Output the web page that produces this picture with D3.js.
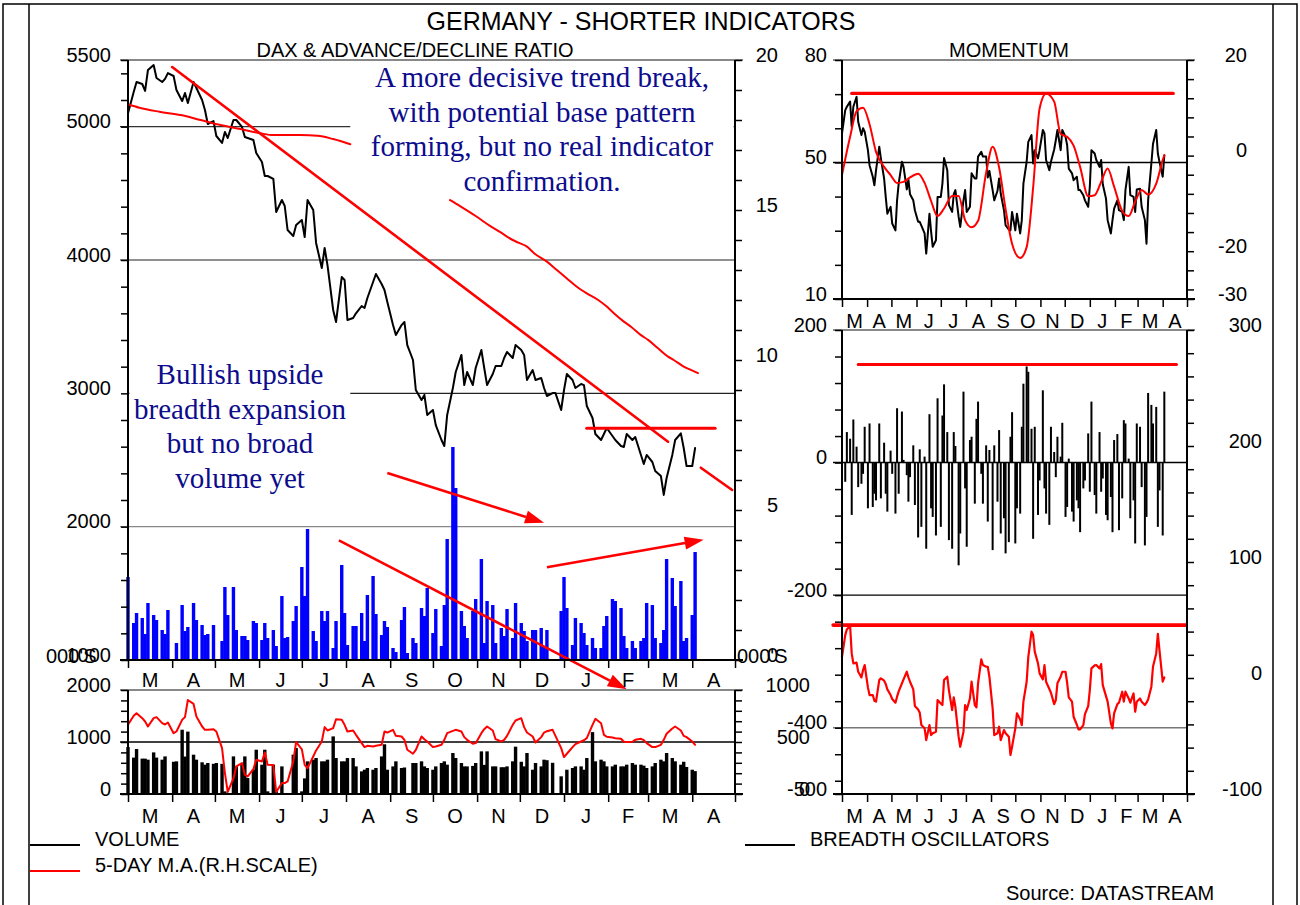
<!DOCTYPE html>
<html>
<head>
<meta charset="utf-8">
<script src="https://cdn.jsdelivr.net/npm/d3@7"></script>
<style>
  html, body { margin: 0; padding: 0; background: #fff; }
  svg { display: block; }
</style>
</head>
<body>
<svg id="chart" width="1300" height="905"></svg>
<script>
// germany - shorter indicators: dax, volume, momentum e breadth
const SANS = "'Liberation Sans', Arial, Helvetica, sans-serif";
const SERIF = "'Liberation Serif', 'Times New Roman', Times, serif";
const NAVY = "#0c0c8c";
const RED = "#ff0000";
const BLUE = "#0000ff";

const parse = d3.timeParse("%Y-%m-%d");
const START = parse("2002-03-01");
const END = parse("2003-05-01");
const LAST = parse("2003-04-03");

const MONTH_LABELS = ["M", "A", "M", "J", "J", "A", "S", "O", "N", "D", "J", "F", "M", "A"];

// one value every second trading day
const DAX = [
  5100, 5260, 5335, 5320, 5268, 5425, 5462, 5365, 5335, 5358,
  5402, 5380, 5275, 5192, 5252, 5178, 5335, 5290, 5200, 5125,
  5020, 5042, 4930, 4878, 4960, 4915, 5050, 5050, 4998, 4922,
  4915, 4900, 4802, 4735, 4630, 4630, 4608, 4360, 4450, 4405,
  4225, 4180, 4262, 4300, 4172, 4450, 4375, 4128, 3940, 4090,
  3962, 3625, 3535, 3872, 3850, 3550, 3565, 3600, 3655, 3640,
  3715, 3835, 3895, 3820, 3775, 3685, 3512, 3438, 3512, 3535,
  3362, 3250, 3025, 2950, 2988, 2838, 2875, 2762, 2650, 2605,
  2838, 3040, 3160, 3288, 3062, 3160, 3062, 3190, 3325, 3190,
  3062, 3145, 3205, 3205, 3265, 3310, 3265, 3362, 3325, 3288,
  3100, 3175, 3100, 3115, 3040, 2980, 3002, 3002, 2875, 3025,
  3145, 3100, 3040, 3070, 3062, 2905, 2815, 2695, 2650, 2695,
  2740, 2680, 2650, 2605, 2598, 2695, 2650, 2672, 2538, 2470,
  2538, 2485, 2418, 2380, 2238, 2365, 2538, 2650, 2700, 2590,
  2455, 2455, 2590
];

const ADV_VOLUME = [
  830, 370, 470, 420, 260, 570, 450, 400, 300, 260,
  500, 0, 170, 550, 290, 330, 570, 400, 350, 250,
  260, 350, 0, 190, 730, 450, 730, 300, 240, 240,
  200, 390, 370, 200, 370, 220, 300, 140, 640, 220,
  230, 390, 540, 930, 640, 1310, 290, 190, 490, 390,
  490, 120, 390, 950, 470, 150, 340, 340, 470, 190,
  650, 840, 460, 250, 390, 330, 120, 80, 400, 530,
  70, 220, 170, 520, 440, 720, 270, 510, 140, 550,
  1210, 2130, 1720, 490, 340, 220, 490, 610, 1010, 170,
  590, 550, 170, 320, 240, 510, 220, 570, 370, 290,
  190, 300, 300, 320, 140, 300, 0, 0, 490, 830,
  520, 150, 420, 370, 270, 150, 220, 120, 120, 340,
  440, 610, 590, 520, 240, 120, 190, 120, 190, 220,
  570, 550, 220, 170, 300, 1010, 820, 540, 790, 190,
  220, 450, 1080
];

const VOLUME = [
  904, 700, 865, 680, 680, 660, 800, 700, 660, 723,
  0, 620, 628, 1236, 720, 1200, 756, 660, 610, 564,
  596, 580, 596, 580, 51, 0, 723, 530, 596, 723,
  307, 467, 852, 564, 852, 51, 564, 51, 531, 0,
  0, 756, 884, 51, 300, 628, 660, 692, 628, 628,
  660, 1108, 692, 628, 628, 692, 692, 531, 435, 467,
  500, 467, 500, 723, 956, 467, 531, 628, 500, 510,
  0, 596, 596, 628, 531, 500, 467, 531, 596, 628,
  564, 788, 692, 596, 531, 531, 540, 596, 820, 560,
  820, 531, 531, 515, 515, 531, 628, 910, 620, 531,
  788, 467, 596, 531, 660, 650, 600, 0, 340, 0,
  467, 500, 531, 531, 467, 692, 1190, 628, 660, 628,
  531, 531, 564, 531, 531, 564, 596, 564, 564, 545,
  500, 531, 596, 660, 628, 788, 692, 628, 564, 620,
  520, 467, 440
];

const VOLUME_MA = [
  665, 752, 777, 729, 697, 649, 729, 739, 681, 668,
  687, 585, 601, 713, 739, 904, 866, 745, 649, 617,
  617, 623, 601, 441, 201, 20, 150, 265, 297, 185,
  169, 239, 329, 313, 399, 281, 278, 20, 105, 105,
  121, 313, 500, 430, 281, 249, 361, 419, 505, 643,
  611, 633, 719, 713, 665, 601, 611, 569, 489, 451,
  463, 457, 463, 473, 601, 591, 617, 559, 553, 521,
  425, 387, 425, 553, 527, 505, 451, 457, 473, 521,
  585, 607, 617, 601, 547, 521, 483, 489, 585, 623,
  649, 611, 527, 505, 521, 559, 665, 707, 729, 643,
  591, 553, 495, 547, 591, 604, 617, 559, 441, 355,
  387, 451, 480, 505, 517, 537, 665, 723, 681, 569,
  550, 543, 537, 531, 502, 499, 502, 521, 531, 517,
  489, 451, 451, 473, 521, 579, 630, 649, 611, 559,
  547, 505, 473
];

const MOMENTUM = [
  58.5, 65.3, 66.3, 67.8, 60.4, 66.3, 69.2, 61.9, 58.0, 60.0,
  59.0, 53.6, 49.2, 45.8, 43.3, 47.7, 54.6, 51.2, 45.3, 39.9,
  35.0, 37.0, 32.1, 30.1, 38.9, 43.8, 50.2, 48.7, 42.1, 45.0,
  40.7, 38.9, 36.0, 32.6, 32.6, 31.5, 29.2, 23.3, 35.0, 29.8,
  25.3, 27.2, 39.9, 39.9, 43.8, 51.3, 47.7, 37.5, 35.5, 40.7,
  41.9, 34.1, 31.1, 38.9, 41.9, 35.5, 37.0, 46.8, 45.3, 45.3,
  51.7, 53.1, 51.7, 51.7, 45.6, 47.5, 41.9, 38.9, 41.7, 45.3,
  40.9, 36.0, 31.6, 30.3, 30.1, 35.5, 30.1, 35.0, 29.2, 33.1,
  43.8, 50.2, 56.0, 58.0, 49.7, 53.6, 51.2, 53.6, 59.5, 58.5,
  50.7, 47.7, 50.2, 53.8, 56.5, 59.5, 53.6, 59.5, 57.5, 55.1,
  48.2, 46.8, 44.8, 45.8, 41.9, 41.9, 40.4, 38.9, 37.0, 42.9,
  53.6, 52.6, 50.7, 48.7, 50.7, 43.6, 39.4, 33.1, 29.2, 33.1,
  36.5, 38.9, 36.0, 35.5, 33.1, 41.9, 48.7, 40.4, 39.9, 35.5,
  42.1, 42.3, 37.0, 33.1, 26.2, 38.9, 49.7, 55.4, 59.5, 52.6,
  50.2, 45.8, 52.1
];

// one value every sixth trading day
const MOMENTUM_MA = [
  46.3, 57.5, 65.0, 66.0, 61.2, 53.1, 48.7, 46.3, 44.0, 44.3,
  45.6, 46.7, 44.0, 38.7, 34.3, 36.5, 40.2, 40.2, 33.1, 31.0,
  32.9, 47.0, 54.6, 48.5, 36.3, 26.2, 22.0, 25.2, 42.6, 65.8,
  70.2, 67.8, 58.3, 57.5, 54.9, 48.7, 40.1, 40.4, 44.3, 48.2,
  42.9, 35.8, 34.3, 38.5, 41.9, 40.6, 43.8, 50.7, 52.1
];

const BREADTH = [
  99, -29, 46, 36, -79, 65, 24, -37, -32, -17,
  54, -69, 59, -67, -47, -57, 59, -54, 30, -47,
  -74, 18, -17, -77, 82, -47, 77, 4, -19, -59,
  -22, 26, -64, -113, 20, -97, 9, -130, 73, -69,
  -82, -110, 97, -97, 71, 118, 46, -117, -130, 46,
  25, -155, -107, 107, -39, -127, 34, 39, -62, 66,
  92, -17, -62, 26, -89, 19, -132, 26, -59, 49,
  -107, -84, -137, -120, 39, 76, -122, -69, -77, 54,
  119, 145, 137, 51, -115, 54, -79, -27, 109, -39,
  -77, -94, 54, 16, -22, 39, 9, 60, -82, -67,
  6, -74, -89, -57, -69, -105, -39, -27, 44, -44,
  92, -49, -77, 46, -44, -24, -79, -87, -52, -105,
  34, 43, -102, -54, 64, 59, 6, -84, -57, -122,
  59, 54, -37, -125, -82, 105, 87, 59, 84, -97,
  -42, -110, 107
];

const BREADTH_MA = [
  18.3, 37.0, 41.9, 45.0, 21.2, 12.6, 13.2, 5.4, 0.5, 6.9,
  11.2, -8.1, -14.7, -14.7, -19.6, -20.4, -1.8, -0.3, -2.3, -5.2,
  -9.8, -14.7, -18.1, -21.3, -16.1, -11.5, -4.6, -1.2, 5.4, 0.5,
  -3.2, -9.8, -24.2, -27.1, -29.9, -40.6, -43.4, -53.5, -40.6, -49.2,
  -47.7, -46.3, -19.0, -21.9, -23.3, -1.8, 1.1, -10.4, -27.6, -16.7,
  -24.8, -50.6, -59.3, -46.3, -23.3, -27.6, -17.6, -3.2, -23.3, -25.3,
  -4.6, 16.1, 11.2, 9.7, 9.7, 1.1, -26.2, -49.2, -47.7, -42.0,
  -53.5, -44.9, -47.7, -50.6, -66.4, -59.3, -43.4, -30.5, -35.7, -40.6,
  -20.4, -3.2, 17.8, 40.0, 37.0, 22.7, 12.6, 4.0, -1.2, 11.2,
  -3.2, -9.5, -12.7, -22.5, -19.0, -4.6, 1.1, 5.4, 5.4, -4.1,
  -16.7, -20.4, -33.4, -40.3, -44.3, -44.3, -40.6, -31.1, -24.2, -10.4,
  8.3, 10.9, 11.2, 8.3, 12.0, -6.1, -15.6, -20.4, -39.1, -43.4,
  -30.5, -22.5, -21.3, -11.8, -20.4, -11.8, -17.6, -21.3, -13.3, -29.1,
  -20.4, -17.6, -20.4, -23.3, -21.3, -18.5, -7.5, 9.7, 21.2, 38.0,
  24.1, -3.2, 0.5
];

// smooth lines read at their own dates
const DAX_MA = [
  ["2002-03-01", 5168], ["2002-03-09", 5142], ["2002-03-23", 5112], ["2002-04-07", 5087],
  ["2002-04-21", 5050], ["2002-05-05", 5012], ["2002-05-19", 4982], ["2002-06-02", 4950],
  ["2002-06-11", 4937], ["2002-06-30", 4937], ["2002-07-12", 4932], ["2002-07-23", 4907],
  ["2002-08-04", 4868]
];

const AD_RATIO = [
  ["2002-10-13", 15.33], ["2002-10-20", 15.13], ["2002-10-31", 14.8], ["2002-11-10", 14.47],
  ["2002-11-17", 14.27], ["2002-11-26", 14.0], ["2002-11-30", 13.91], ["2002-12-06", 13.78],
  ["2002-12-11", 13.56], ["2002-12-20", 13.28], ["2002-12-27", 13.0], ["2003-01-03", 12.72],
  ["2003-01-10", 12.44], ["2003-01-17", 12.22], ["2003-01-25", 12.0], ["2003-01-31", 11.78],
  ["2003-02-05", 11.56], ["2003-02-12", 11.28], ["2003-02-17", 11.11], ["2003-02-24", 10.83],
  ["2003-03-01", 10.67], ["2003-03-08", 10.39], ["2003-03-15", 10.11], ["2003-03-19", 10.0],
  ["2003-03-26", 9.78], ["2003-03-31", 9.67], ["2003-04-05", 9.56]
];

// annotations drawn by hand on the original
const TREND_SEGMENTS = [
  [["2002-04-01", 5447], ["2003-03-15", 2637]],
  [["2003-04-07", 2442], ["2003-04-29", 2275]]
];
const DAX_LEVEL = [["2003-01-17", 2738], ["2003-04-17", 2738]];
const ARROWS = [
  [["2002-08-30", 2402], ["2002-12-18", 2030]],
  [["2002-12-20", 1695], ["2003-04-09", 1902]],
  [["2002-07-27", 1897], ["2003-02-14", 780]]
];
const MOMENTUM_LEVEL = [["2002-03-13", 70.2], ["2003-04-14", 70.2]];
const BREADTH_LEVEL = [["2002-03-21", 148], ["2003-04-18", 148]];
const BREADTH_MA_LEVEL = [["2002-02-18", 45.6], ["2003-04-30", 45.6]];

const NOTE_BOXES = [
  { from: "2002-08-04", to: "2003-04-30", top: 5500, bottom: 4450 },
  { from: "2002-03-02", to: "2002-08-04", top: 3290, bottom: 2200 }
];
const NOTE_TOP = ["A more decisive trend break,", "with potential base pattern", "forming, but no real indicator", "confirmation."];
const NOTE_LEFT = ["Bullish upside", "breadth expansion", "but no broad", "volume yet"];

const tradingDays = d3.timeDay.range(START, d3.timeDay.offset(LAST, 1)).filter((d) => d.getDay() % 6 !== 0);
const sampleDates = tradingDays.filter((_d, i) => i % 2 === 0);
const months = d3.timeMonth.range(START, d3.timeDay.offset(END, 1));

function series(values, step = 1) {
  return values.map((v, k) => ({ date: sampleDates[Math.min(k * step, sampleDates.length - 1)], v }));
}
function pairs(list) {
  return list.map(([d, v]) => ({ date: parse(d), v }));
}

const xL = d3.scaleTime().domain([START, END]).range([128, 735]);
const xR = d3.scaleTime().domain([START, END]).range([842, 1187]);
const yDax = d3.scaleLinear().domain([1000, 5500]).range([660, 60]);
const yRatio = d3.scaleLinear().domain([0, 20]).range([660, 60]);
const yAdv = d3.scaleLinear().domain([0, 6000]).range([660, 60]);
const yVol = d3.scaleLinear().domain([0, 2000]).range([794, 690]);
const yVolMa = d3.scaleLinear().domain([0, 1000]).range([794, 690]);
const yMom = d3.scaleLinear().domain([10, 80]).range([299, 60]);
const yMomR = d3.scaleLinear().domain([-30, 20]).range([299, 60]);
const yBr = d3.scaleLinear().domain([-500, 200]).range([794, 330]);
const yBrR = d3.scaleLinear().domain([-100, 300]).range([794, 330]);

const svg = d3.select("#chart");
svg.append("rect").attr("width", 1300).attr("height", 905).attr("fill", "#fff");

// moldura externa
svg.append("rect").attr("x", 3).attr("y", 4).attr("width", 1294).attr("height", 920)
  .attr("fill", "none").attr("stroke", "#000").attr("stroke-width", 1.5);
[29, 1273].forEach((x) => {
  svg.append("line").attr("x1", x).attr("x2", x).attr("y1", 4).attr("y2", 905)
    .attr("stroke", "#000").attr("stroke-width", 1.5);
});

function hline(x1, x2, y, color, w) {
  svg.append("line").attr("x1", x1).attr("x2", x2).attr("y1", y).attr("y2", y)
    .attr("stroke", color).attr("stroke-width", w);
}
function vline(x, y1, y2, color, w) {
  svg.append("line").attr("x1", x).attr("x2", x).attr("y1", y1).attr("y2", y2)
    .attr("stroke", color).attr("stroke-width", w);
}

// grid
hline(120, 735, yDax(5000), "#333", 1.2);
hline(120, 735, yDax(4000), "#222", 1.2);
hline(128, 735, yDax(3000), "#222", 1.2);
hline(120, 735, yDax(2000), "#888", 1.4);
hline(120, 735, yVol(1000), "#000", 1.4);
hline(833, 1187, yMom(50), "#000", 1.4);
hline(833, 1187, yBr(0), "#000", 1.4);
hline(833, 1187, yBr(-200), "#000", 1.4);
hline(833, 1187, yBr(-400), "#777", 1.4);

// caixas brancas das notas cobrem a grade
NOTE_BOXES.forEach((b) => {
  svg.append("rect")
    .attr("x", xL(parse(b.from))).attr("width", xL(parse(b.to)) - xL(parse(b.from)))
    .attr("y", yDax(b.top)).attr("height", yDax(b.bottom) - yDax(b.top))
    .attr("fill", "#fff");
});

function bars(data, x, y, width, color) {
  svg.append("g").selectAll("rect")
    .data(data.filter((d) => d.v !== 0))
    .join("rect")
    .attr("x", (d) => x(d.date) - width / 2)
    .attr("width", width)
    .attr("y", (d) => Math.min(y(d.v), y(0)))
    .attr("height", (d) => Math.abs(y(d.v) - y(0)))
    .attr("fill", color);
}
function path(data, x, y, color, w, curve) {
  const line = d3.line().x((d) => x(d.date)).y((d) => y(d.v));
  if (curve) line.curve(curve);
  svg.append("path").datum(data).attr("d", line)
    .attr("fill", "none").attr("stroke", color).attr("stroke-width", w)
    .attr("stroke-linejoin", "round").attr("stroke-linecap", "round");
}

// painel dax
bars(series(ADV_VOLUME), xL, yAdv, 3.4, BLUE);
path(series(DAX), xL, yDax, "#000", 2);
path(pairs(DAX_MA), xL, yDax, RED, 2, d3.curveMonotoneX);
path(pairs(AD_RATIO), xL, yRatio, RED, 2, d3.curveMonotoneX);
TREND_SEGMENTS.forEach((seg) => path(pairs(seg), xL, yDax, RED, 2.6));
path(pairs(DAX_LEVEL), xL, yDax, RED, 3.2);

ARROWS.forEach((a) => {
  const [p0, p1] = pairs(a);
  const x0 = xL(p0.date), y0 = yDax(p0.v), x1 = xL(p1.date), y1 = yDax(p1.v);
  const ang = Math.atan2(y1 - y0, x1 - x0);
  const L = 19, W = 6.5;
  const bx = x1 - L * Math.cos(ang), by = y1 - L * Math.sin(ang);
  svg.append("line").attr("x1", x0).attr("y1", y0).attr("x2", bx).attr("y2", by)
    .attr("stroke", RED).attr("stroke-width", 2.6);
  svg.append("path")
    .attr("d", `M${x1},${y1}L${bx + W * Math.sin(ang)},${by - W * Math.cos(ang)}L${bx - W * Math.sin(ang)},${by + W * Math.cos(ang)}Z`)
    .attr("fill", RED);
});

// painel volume
bars(series(VOLUME), xL, yVol, 3.4, "#000");
path(series(VOLUME_MA), xL, yVolMa, RED, 2);

// momentum
path(series(MOMENTUM), xR, yMom, "#000", 2);
path(series(MOMENTUM_MA, 3), xR, yMom, RED, 2, d3.curveMonotoneX);
path(pairs(MOMENTUM_LEVEL), xR, yMom, RED, 3.2);

// breadth
bars(series(BREADTH), xR, yBr, 2, "#000");
path(pairs(BREADTH_LEVEL), xR, yBr, RED, 3);
path(series(BREADTH_MA), xR, yBrR, RED, 2.2);
path(pairs(BREADTH_MA_LEVEL), xR, yBrR, RED, 3.6);

// eixos
function yAxis(scale, x, side, ticks, labels, labelRight) {
  const axis = (side === "left" ? d3.axisLeft(scale) : d3.axisRight(scale))
    .tickValues(ticks).tickSize(7).tickSizeOuter(0)
    .tickFormat((d) => (labels.includes(d) ? String(d) : ""));
  const g = svg.append("g").attr("transform", `translate(${x},0)`).call(axis)
    .attr("font-family", SANS).attr("font-size", 20);
  g.select(".domain").remove();
  g.selectAll("line").attr("stroke", "#000").attr("stroke-width", 1.5);
  g.selectAll("text").attr("x", labelRight - x).attr("dy", 1)
    .attr("text-anchor", "end").attr("fill", "#000");
  const r = scale.range();
  vline(x, r[0], r[1], "#000", 2);
}

function xAxis(scale, y, labelY) {
  const g = svg.append("g").attr("transform", `translate(0,${y})`)
    .call(d3.axisBottom(scale).tickValues(months).tickSize(8).tickSizeOuter(0).tickFormat(""));
  g.select(".domain").remove();
  g.selectAll("line").attr("stroke", "#000").attr("stroke-width", 1.5);
  svg.append("g").selectAll("text")
    .data(MONTH_LABELS)
    .join("text")
    .attr("x", (_d, i) => (scale(months[i]) + scale(months[i + 1])) / 2)
    .attr("y", labelY)
    .attr("text-anchor", "middle")
    .attr("font-family", SANS).attr("font-size", 20).attr("fill", "#000")
    .text((d) => d);
}

// molduras
hline(120, 743, 60, "#888", 2);
hline(120, 743, 660, "#000", 2);
hline(120, 743, 690, "#888", 2);
hline(120, 743, 794, "#000", 2);
hline(833, 1195, 60, "#888", 2);
hline(833, 1195, 299, "#000", 2);
hline(833, 1195, 330, "#888", 2);
hline(833, 1195, 794, "#000", 2);

yAxis(yDax, 128, "left", d3.range(1000, 5500, 200).concat([5500]), [5500, 5000, 4000, 3000, 2000, 1000], 111);
yAxis(yRatio, 735, "right", d3.range(0, 21, 1), [20, 15, 10, 5, 0], 778);
yAxis(yVol, 128, "left", d3.range(0, 2001, 200), [2000, 1000, 0], 111);
yAxis(yVolMa, 735, "right", d3.range(0, 1001, 100), [1000, 500, 0], 810);
yAxis(yMom, 842, "left", d3.range(10, 81, 10), [80, 50, 10], 827);
yAxis(yMomR, 1187, "right", d3.range(-28, 21, 4).concat([-30]), [20, 0, -20, -30], 1247);
yAxis(yBr, 842, "left", d3.range(-480, 201, 40).concat([-500]), [200, 0, -200, -400, -500], 827);
yAxis(yBrR, 1187, "right", d3.range(-100, 301, 20), [300, 200, 100, 0, -100], 1262);

xAxis(xL, 660, 687);
xAxis(xL, 794, 823);
xAxis(xR, 299, 328);
xAxis(xR, 794, 823);

function label(text, x, y, size, anchor, opts = {}) {
  svg.append("text").attr("x", x).attr("y", y)
    .attr("text-anchor", anchor)
    .attr("font-family", opts.family || SANS)
    .attr("font-size", size)
    .attr("fill", opts.color || "#000")
    .text(text);
}

label("000'S", 46, 663, 20, "start");
label("000'S", 737, 663, 20, "start");

// titulos
label("GERMANY - SHORTER INDICATORS", 641, 30, 25, "middle");
label("DAX & ADVANCE/DECLINE RATIO", 415, 57, 20, "middle");
label("MOMENTUM", 1009, 57, 20, "middle");

// notas
NOTE_TOP.forEach((t, i) => label(t, 542, 87 + i * 34.7, 29, "middle", { family: SERIF, color: NAVY }));
NOTE_LEFT.forEach((t, i) => label(t, 240, 384 + i * 34.7, 29, "middle", { family: SERIF, color: NAVY }));

// legenda
hline(30, 80, 845, "#000", 2);
label("VOLUME", 95, 846, 20, "start");
hline(30, 80, 871, RED, 2);
label("5-DAY M.A.(R.H.SCALE)", 95, 872, 20, "start");
hline(745, 795, 845, "#000", 2);
label("BREADTH OSCILLATORS", 810, 846, 20, "start");
label("Source: DATASTREAM", 1006, 900, 20, "start");
</script>
</body>
</html>
